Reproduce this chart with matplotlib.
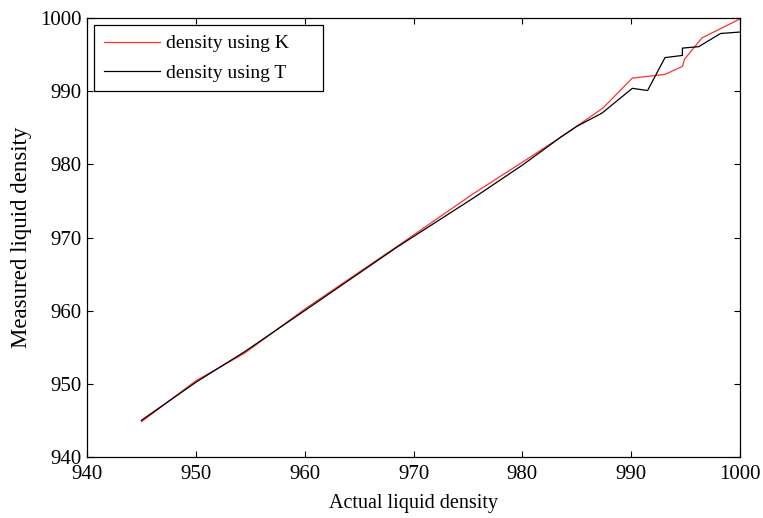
import matplotlib
matplotlib.use("Agg")
import matplotlib.pyplot as plt

red_x = [945, 950, 954.5, 960, 968.5, 975.5, 980, 983.5, 987.4, 990.1, 993.1, 994.7, 994.9, 996.5, 1000]
red_y = [944.8, 950.4, 954.2, 960.2, 968.8, 976.0, 980.3, 983.7, 987.7, 991.8, 992.3, 993.4, 994.4, 997.3, 999.9]
blk_x = [945, 950, 954.5, 960, 968.5, 975.5, 980, 983.5, 985.0, 987.3, 990.1, 991.5, 993.1, 994.7, 994.7, 996.2, 998.2, 1000]
blk_y = [945.0, 950.2, 954.4, 960.0, 968.7, 975.4, 979.9, 983.7, 985.2, 987.0, 990.4, 990.1, 994.6, 994.9, 995.9, 996.1, 997.9, 998.1]

xticks = [940, 950, 960, 970, 980, 990, 1000]
yticks = [940, 950, 960, 970, 980, 990, 1000]

plt.rcParams['font.family'] = ['Liberation Serif', 'DejaVu Serif']
fig = plt.figure(figsize=(7.63, 5.18), dpi=100)
ax = fig.add_axes([0.114, 0.118, 0.856, 0.847])
ax.plot(red_x, red_y, color='#ff3030', lw=0.9, label='density using K     ')
ax.plot(blk_x, blk_y, color='black', lw=0.9, label='density using T     ')
ax.set_xlim(940, 1000)
ax.set_ylim(940, 1000)
ax.set_xticks(xticks)
ax.set_yticks(yticks)
ax.tick_params(direction='in', top=True, right=True, labelsize=15, length=4.5, width=0.8, pad=4)
ax.tick_params(axis='x', pad=6)
for s in ax.spines.values():
    s.set_linewidth(0.9)
ax.set_xlabel('Actual liquid density', fontsize=14.5, labelpad=7)
ax.set_ylabel('Measured liquid density', fontsize=16.5, labelpad=6)
leg = ax.legend(loc='upper left', fontsize=14, fancybox=False, framealpha=1,
                edgecolor='black', borderaxespad=0.36, handlelength=2.9, borderpad=0.5,
                handletextpad=0.3, labelspacing=0.6)
leg.get_frame().set_linewidth(0.9)
fig.savefig('out.png', dpi=100)
